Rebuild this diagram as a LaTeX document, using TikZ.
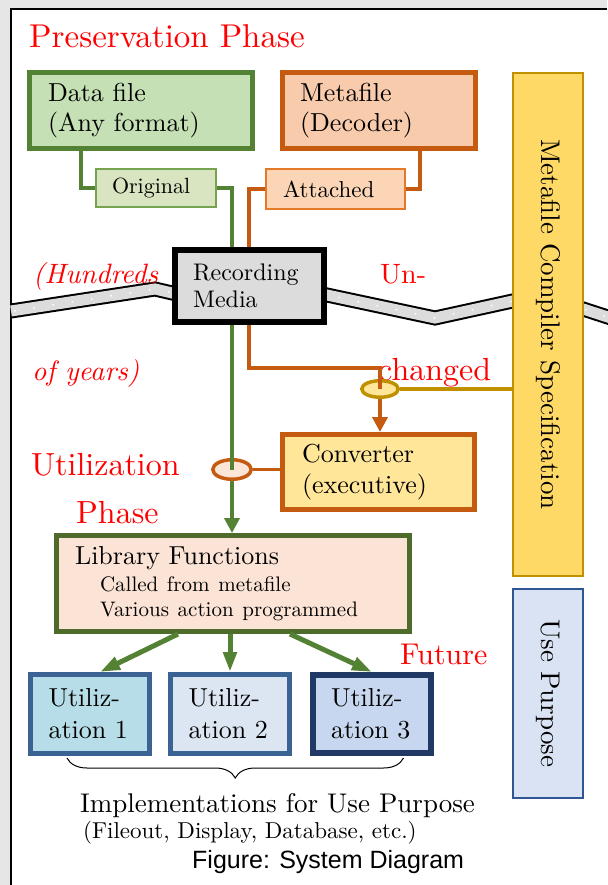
\documentclass[tikz,border=0pt]{standalone}
\usepackage{fontspec}
\usepackage{graphicx}
\usepackage{xcolor}
\usetikzlibrary{arrows.meta,positioning,calc,shapes.geometric,decorations.pathreplacing}
\setmainfont{lmroman10}[Extension=.otf, UprightFont=*-regular, ItalicFont=*-italic, BoldFont=*-bold]
\newfontfamily\capfont{Liberation Sans}
\definecolor{pagegray}{HTML}{E6E6E6}
\definecolor{bandgray}{HTML}{DCDCDC}
\definecolor{leaf}{HTML}{548235}
\definecolor{leaffill}{HTML}{C5E0B4}
\definecolor{origline}{HTML}{76A34E}
\definecolor{origfill}{HTML}{D8E5C0}
\definecolor{rust}{HTML}{C55A11}
\definecolor{metafill}{HTML}{F8CBAD}
\definecolor{attline}{HTML}{E5792A}
\definecolor{attfill}{HTML}{FBD5B5}
\definecolor{convfill}{HTML}{FFE699}
\definecolor{gold}{HTML}{BF9000}
\definecolor{specfill}{HTML}{FFD966}
\definecolor{pinkfill}{HTML}{FBE5D6}
\definecolor{olive}{HTML}{4F6B2B}
\definecolor{libfill}{HTML}{FBE3D6}
\definecolor{steel}{HTML}{3A6394}
\definecolor{navy}{HTML}{1F3864}
\definecolor{ufillA}{HTML}{B7DDE8}
\definecolor{ufillB}{HTML}{DCE6F2}
\definecolor{ufillC}{HTML}{C6D7EF}
\definecolor{usefill}{HTML}{DAE3F3}
\definecolor{usebord}{HTML}{2F5597}
\newcommand\bigfs{\fontsize{26}{30}\selectfont}
\newcommand\subfs{\fontsize{21}{25}\selectfont}
\newcommand\origfs{\fontsize{22}{26}\selectfont}
\newcommand\attfs{\fontsize{23}{27}\selectfont}
\newcommand\recfs{\fontsize{24}{27}\selectfont}
\newcommand\tagfs{\fontsize{32}{36}\selectfont}
\newcommand\titlefs{\fontsize{33}{38}\selectfont}
\newcommand\notefs{\fontsize{28}{33}\selectfont\itshape}
\newcommand\implfs{\fontsize{27}{32}\selectfont}
\newcommand\egfs{\fontsize{23}{27}\selectfont}

\begin{document}
\begin{tikzpicture}[x=1pt, y=-1pt, >=Stealth,
  blk/.style={draw, anchor=north west, align=left, font=\bigfs, inner ysep=0pt},
  tag/.style={anchor=base west, inner sep=0pt, text=red, font=\tagfs},
  note/.style={tag, font=\notefs},
  tap/.style={ellipse, draw, line width=3.5pt, inner sep=0pt},
  flow/.style={line width=4.5pt},
  tip/.style={-{Triangle[length=15pt,width=15pt]}},
  fan/.style={draw=leaf, line width=5pt, -{Triangle[length=20pt,width=13pt]}},
  sidebar/.style={line width=2pt, minimum width=70pt, inner sep=0pt,
    font=\fontsize{27}{32}\selectfont}]
\useasboundingbox (0,0) rectangle (607,885);
% page
\fill[pagegray] (0,0) rectangle (607,885);
\fill[white] (11,9) rectangle (607,885);
\draw[line width=1.5pt] (11,885) -- (11,9) -- (607,9);
% the storage band
\draw[line width=2pt, double=bandgray, double distance=11pt]
  (11,311) -- (155,289) -- (215,303) -- (280,285) -- (435,318) -- (540,295) -- (620,321);
\draw[white, line width=1.5pt, dash pattern=on 1.5pt off 18pt]
  (14,311) -- (155,289) -- (215,303) -- (280,285) -- (435,318) -- (540,295) -- (620,321);
% phase labels
\node[tag, font=\titlefs] (pres) at (29,48) {Preservation Phase};
\node[note] (hund) at (33,283) {(Hundreds};
\node[tag, font=\fontsize{28}{33}\selectfont] (un) at (380,283) {Un-};
\node[note] (yrs) at (32,380) {of years)};
\node[tag] (chg) at (378,380) {changed};
\node[tag] (util) at (31,475) {Utilization};
\node[tag] (uphase) at (76,523) {Phase};
\node[tag, font=\fontsize{30}{36}\selectfont] (fut) at (400,664) {Future};
% boxes
\node[blk, draw=leaf, fill=leaffill, line width=5pt, minimum height=76pt,
  text width=186pt, inner xsep=18.5pt] (data) at (27,70) {Data file\\(Any format)};
\node[blk, draw=rust, fill=metafill, line width=5pt, minimum height=76pt,
  text width=158pt, inner xsep=17.5pt] (meta) at (280,70) {Metafile\\(Decoder)};
\node[blk, draw=origline, fill=origfill, line width=2pt, minimum height=38pt,
  text width=88pt, inner xsep=16pt, font=\origfs] (orig) at (95,168) {Original};
\node[blk, draw=attline, fill=attfill, line width=2pt, minimum height=40pt,
  text width=105pt, inner xsep=17pt, font=\attfs] (att) at (265,168) {Attached};
\node[blk, line width=6pt, fill=bandgray, minimum height=72pt,
  text width=113pt, inner xsep=18pt, font=\recfs] (rec) at (172,247) {Recording\\Media};
\node[blk, draw=rust, fill=convfill, line width=5pt, minimum height=75pt,
  text width=153pt, inner xsep=19.5pt] (conv) at (280,432) {Converter\\[1pt](executive)};
\node[blk, draw=olive, fill=libfill, line width=5pt, minimum height=96pt,
  text width=316pt, inner xsep=18.5pt] (lib) at (54,533)
  {Library Functions\\[-3pt]{\subfs\hspace*{25pt}Called from metafile}\\[-5pt]{\subfs\hspace*{25pt}Various action programmed}};
\node[blk, draw=steel, fill=ufillA, line width=5pt, minimum height=79pt,
  text width=83pt, inner xsep=18pt] (u1) at (28,672) {Utiliz-\\[2pt]ation 1};
\node[blk, draw=steel, fill=ufillB, line width=5pt, minimum height=79pt,
  text width=83pt, inner xsep=18pt, right=16pt of u1] (u2) {Utiliz-\\[2pt]ation 2};
\node[blk, draw=navy, fill=ufillC, line width=6pt, minimum height=78pt,
  text width=82pt, inner xsep=18pt, right=18pt of u2] (u3) {Utiliz-\\[2pt]ation 3};
\node[sidebar, draw=gold, fill=specfill, minimum height=503pt, anchor=north west]
  (spec) at (512,72) {\rotatebox{-90}{Metafile Compiler Specification}};
\node[sidebar, draw=usebord, fill=usefill, minimum height=209pt, below=11pt of spec]
  (use) {\rotatebox{-90}{Use Purpose}};
\node[tap, draw=gold, fill=convfill, minimum width=36.5pt, minimum height=16.5pt]
  (metatap) at (380,389) {};
\node[tap, draw=rust, fill=pinkfill, minimum width=38.5pt, minimum height=19.5pt]
  (convtap) at (232,469.5) {};
% preservation side
\draw[flow, draw=leaf] ($(data.south west)+(54,0)$) |- (orig.west);
\draw[flow, draw=rust] ($(meta.south west)+(140,0)$) |- (att.east);
\draw[flow, draw=leaf] (orig.east) -| ($(rec.north west)+(60,0)$);
\draw[flow, draw=rust] (att.west) -| ($(rec.north west)+(77,0)$);
% media to utilization
\draw[flow, draw=rust] ($(rec.south west)+(77,0)$) |- ($(metatap.north)+(0,-11)$) -- (metatap.center);
\draw[flow, draw=rust, tip] (metatap.south) -- (metatap.south |- conv.north);
\draw[flow, draw=leaf] ($(rec.south west)+(60,0)$) -- (convtap.center);
\draw[flow, draw=leaf, tip] (convtap.south) -- (convtap.south |- lib.north);
\draw[line width=3.5pt, draw=rust] (convtap.east) -- (convtap.east -| conv.west);
\draw[line width=3.5pt, draw=gold] (metatap.east) -- (metatap.east -| spec.west);
\draw[fan] ($(lib.south west)+(124,0)$) -- ($(u1.north)+(10,0)$);
\draw[fan] (lib.south -| u2.north) -- (u2.north);
\draw[fan] ($(lib.south west)+(236,0)$) -- (u3.north);
% implementations
\draw[decorate, decoration={brace, mirror, amplitude=20pt}, line width=1pt]
  ($(u1.south)+(-23,2)$) -- ($(u3.south)+(31.5,2)$);
\node[anchor=base west, inner sep=0pt, font=\implfs] (impl) at (80,812) {Implementations for Use Purpose};
\node[anchor=base west, inner sep=0pt, font=\egfs] (egs) at (83,838) {(Fileout, Display, Database, etc.)};
\node[anchor=base west, inner sep=0pt, font=\capfont\fontsize{25}{30}\selectfont]
  (cap) at (192,868) {Figure: System Diagram};
\end{tikzpicture}
\end{document}
